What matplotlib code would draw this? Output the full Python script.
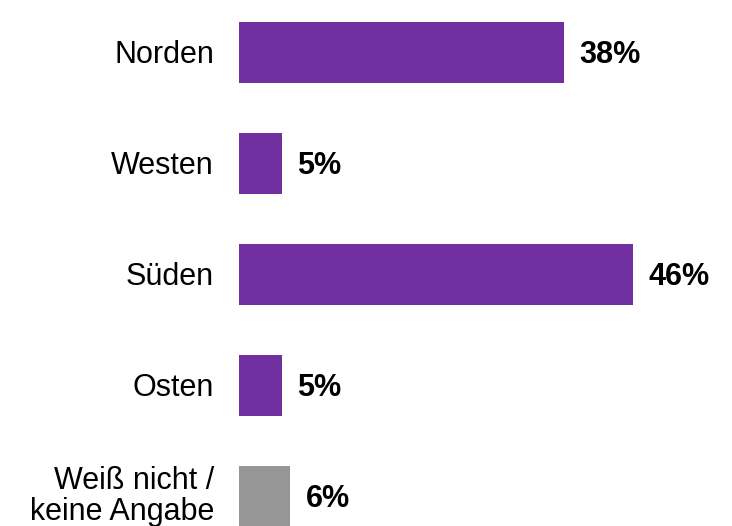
import matplotlib.pyplot as plt

plt.rcParams["font.family"] = ["Liberation Sans", "DejaVu Sans"]

categories = ["Norden", "Westen", "Süden", "Osten", "Weiß nicht /\nkeine Angabe"]
shares = [38, 5, 46, 5, 6]
colors = ["#7030A0", "#7030A0", "#7030A0", "#7030A0", "#969696"]

fig = plt.figure(figsize=(7.32, 5.26), dpi=100)
ax = fig.add_axes([239 / 732, 0, 471 / 732, 1])

pos = list(range(len(categories)))
ax.barh(pos, shares, height=0.55, color=colors)
ax.set_xlim(0, 55)
ax.set_ylim(4.266, -0.473)
ax.set_xticks([])
ax.set_yticks([])
for side in ax.spines.values():
    side.set_visible(False)

# category labels left of the bars
for y, name in zip(pos, categories):
    dy = 0 if "\n" in name else -2
    ax.annotate(name, (0, y), xytext=(-18, dy), textcoords="offset points",
                va="center", ha="right", fontsize=22, multialignment="right",
                linespacing=1.05, annotation_clip=False)

for y, v in zip(pos, shares):
    ax.annotate(f"{v}%", (v, y), xytext=(11, -2), textcoords="offset points",
                va="center", ha="left", fontsize=22, fontweight="bold")

fig.savefig("out.png", dpi=100)
